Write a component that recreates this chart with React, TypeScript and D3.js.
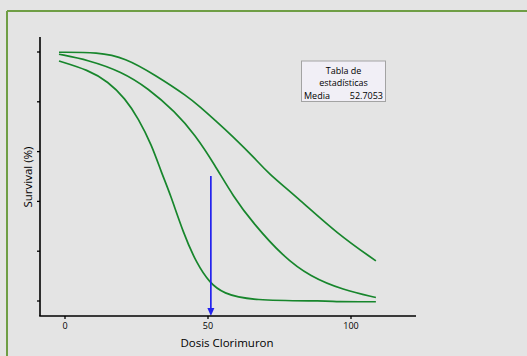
import React from "react";
import * as d3 from "d3";

const W = 527;
const H = 356;

const xTicks = [0, 50, 100];
const yTicks = [0, 20, 40, 60, 80, 100];

const upperX = [-2.1, 11.6, 21.0, 31.5, 43.1, 47.2, 52.4, 58.8, 67.0, 70.5, 82.2, 95.0, 108.7];
const upperY = [99.9, 99.9, 97.7, 90.8, 82.0, 78.0, 72.7, 66.0, 56.6, 51.9, 40.6, 27.2, 16.1];

const middleX = [-2.1, 8.1, 19.8, 29.1, 38.5, 45.5, 52.4, 58.8, 65.8, 76.3, 85.7, 97.3, 108.7];
const middleY = [99.1, 96.8, 92.1, 85.4, 76.0, 66.7, 54.6, 42.0, 31.2, 17.8, 9.8, 4.4, 1.4];

const lowerX = [-2.1, 8.1, 15.1, 21.0, 25.6, 30.3, 33.8, 36.7, 41.4, 46.0, 50.7, 55.3, 64.7, 92.7, 93.8, 108.7];
const lowerY = [96.4, 92.8, 88.1, 81.4, 73.4, 62.7, 51.3, 43.3, 27.2, 15.1, 7.1, 3.1, 0.1, 0.1, -0.3, -0.3];

const arrowX = 51;
const arrowTop = 50.2;

const statsTitle = ["Tabla de", "estadísticas"];
const statsLabel = "Media";
const statsValue = "52.7053";

const xLabel = "Dosis Clorimuron";
const yLabel = "Survival (%)";

export default function App() {
  const x = d3.scaleLinear().domain([0, 100]).range([65, 351]);
  const y = d3.scaleLinear().domain([0, 100]).range([301, 52]);
  const axisLeft = 40;
  const axisBottom = 316;
  const axisTop = 37;
  const axisRight = 416;

  const line = d3
    .line<[number, number]>()
    .x((d) => x(d[0]))
    .y((d) => y(d[1]))
    .curve(d3.curveBasis);

  const series = [
    upperX.map((v, i) => [v, upperY[i]] as [number, number]),
    middleX.map((v, i) => [v, middleY[i]] as [number, number]),
    lowerX.map((v, i) => [v, lowerY[i]] as [number, number]),
  ];

  const font = "'Open Sans', 'DejaVu Sans', sans-serif";
  const ax = x(arrowX);

  return (
    <svg
      width={W}
      height={H}
      style={{ position: "fixed", left: 0, top: 0, display: "block" }}
      fontFamily={font}
    >
      <rect x={0} y={0} width={W} height={H} fill="#e4e4e4" />
      {/* frame */}
      <line x1={7} y1={11} x2={W} y2={11} stroke="#6f9e45" strokeWidth={2} />
      <line x1={7} y1={11} x2={7} y2={H} stroke="#6f9e45" strokeWidth={2} />

      {/* curves */}
      {series.map((s, i) => (
        <path key={i} d={line(s) || ""} fill="none" stroke="#17862c" strokeWidth={1.7} />
      ))}

      {/* arrow */}
      <line x1={ax} y1={y(arrowTop)} x2={ax} y2={axisBottom - 6} stroke="#2323ee" strokeWidth={1.7} />
      <path
        d={`M${ax - 3.5},${axisBottom - 8} L${ax + 3.5},${axisBottom - 8} L${ax},${axisBottom} Z`}
        fill="#2323ee"
      />

      {/* axes */}
      <line x1={axisLeft} y1={axisTop} x2={axisLeft} y2={axisBottom} stroke="#000" strokeWidth={1.6} />
      <line x1={axisLeft - 0.8} y1={axisBottom} x2={axisRight} y2={axisBottom} stroke="#000" strokeWidth={1.6} />
      {yTicks.map((t) => (
        <line key={t} x1={axisLeft - 3} y1={y(t)} x2={axisLeft} y2={y(t)} stroke="#000" strokeWidth={1.3} />
      ))}
      {xTicks.map((t) => (
        <g key={t}>
          <line x1={x(t)} y1={axisBottom} x2={x(t)} y2={axisBottom + 3} stroke="#000" strokeWidth={1.3} />
          <text x={x(t)} y={axisBottom + 13} textAnchor="middle" fontSize={9} fill="#000">
            {t}
          </text>
        </g>
      ))}
      <text x={227} y={347} textAnchor="middle" fontSize={11.5} fill="#000">
        {xLabel}
      </text>
      <text
        transform={`translate(32,177) rotate(-90)`}
        textAnchor="middle"
        fontSize={11.5}
        fill="#000"
      >
        {yLabel}
      </text>

      {/* stats box */}
      <rect x={301.5} y={61} width={84} height={40.5} fill="#f1eff6" stroke="#a3a3a3" strokeWidth={1} />
      <text x={343.5} y={73.5} textAnchor="middle" fontSize={9} fill="#000">
        {statsTitle[0]}
      </text>
      <text x={343.5} y={85.5} textAnchor="middle" fontSize={9} fill="#000">
        {statsTitle[1]}
      </text>
      <text x={304} y={98.5} fontSize={9} fill="#000">
        {statsLabel}
      </text>
      <text x={383} y={98.5} textAnchor="end" fontSize={9} fill="#000">
        {statsValue}
      </text>
    </svg>
  );
}
